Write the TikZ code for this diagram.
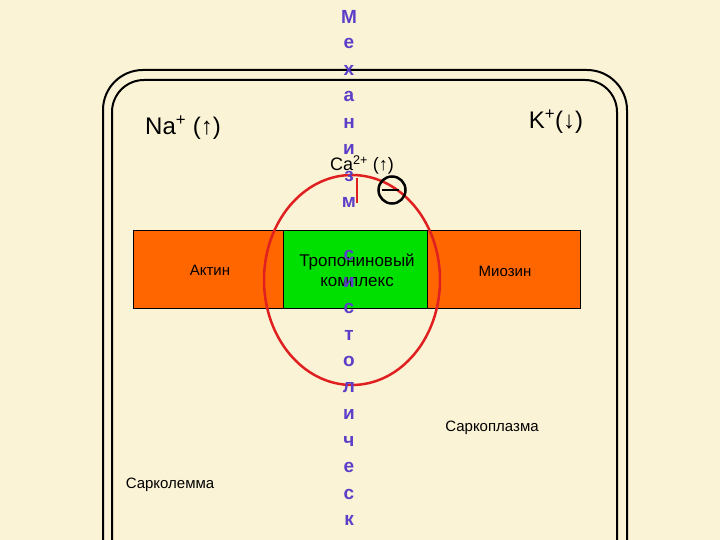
\documentclass[tikz,border=0pt]{standalone}
\usepackage{fontspec}
\setmainfont{Liberation Sans}
\usetikzlibrary{shapes.geometric}
\begin{document}
\begin{tikzpicture}[x=1pt,y=-1pt,
  lbl/.style={font=\fontsize{15}{17}\selectfont},
  big/.style={font=\fontsize{24}{28}\selectfont},
  vl/.style={font=\bfseries\fontsize{19}{21}\selectfont, text=vlet, inner sep=0pt},
  memb/.style={draw=black, line width=2pt}]
\definecolor{bg}{HTML}{FBF3D6}
\definecolor{org}{HTML}{FF6600}
\definecolor{grn}{HTML}{00E000}
\definecolor{vlet}{HTML}{5B3FC8}
\definecolor{rd}{HTML}{E02020}
\fill[bg] (0,0) rectangle (720,540);
\useasboundingbox (0,0) rectangle (720,540);
\begin{scope}
\clip (0,0) rectangle (720,540);
\draw[memb, rounded corners=40pt] (103,70) -- (627,70) -- (627,600) -- (103,600) -- cycle;
\draw[memb, rounded corners=32pt] (112,80) -- (617,80) -- (617,600) -- (112,600) -- cycle;
\end{scope}
\node[draw=black, line width=1pt, fill=org, minimum width=150pt, minimum height=78pt, anchor=north west] (actin) at (133,230) {};
\node[draw=black, line width=1pt, fill=grn, minimum width=144pt, minimum height=78pt, anchor=north west] (trop) at (283,230) {};
\node[draw=black, line width=1pt, fill=org, minimum width=153pt, minimum height=78pt, anchor=north west] (myo) at (427,230) {};
\node[lbl] (tactin) at (210,270) {Актин};
\node[lbl] (tmyo) at (505,271) {Миозин};
\node[draw=rd, line width=2.5pt, ellipse, minimum width=176pt, minimum height=210pt, inner sep=0pt] (circ) at (352,280) {};
\node[align=center, font=\fontsize{17}{20}\selectfont] (ttrop) at (357,270) {Тропониновый\\комплекс};
\node[font=\fontsize{18}{21}\selectfont] (ca) at (362,165) {Ca\textsuperscript{2+} (↑)};
\coordinate (lt) at (357,178);
\coordinate (lb) at (357,203);
\draw[rd, line width=2.5pt] (lt) -- (lb);
\node[draw=black, line width=2.5pt, circle, minimum size=27pt, inner sep=0pt] (minus) at (392,190) {};
\draw[line width=2pt] (minus.west) ++(5,0) -- ++(17,0);
\node[big] (na) at (183,128) {Na\textsuperscript{+} (↑)};
\node[big] (k) at (556,122) {K\textsuperscript{+}(↓)};
\node[lbl] (sp) at (492,428) {Саркоплазма};
\node[lbl] (sl) at (170,485) {Сарколемма};
\foreach \c [count=\i from 0] in {М,е,х,а,н,и,з,м,{},с,и,с,т,о,л,и,ч,е,с,к}
  \node[vl] (v\i) at (349,17+26.5*\i) {\c};
\end{tikzpicture}
\end{document}
